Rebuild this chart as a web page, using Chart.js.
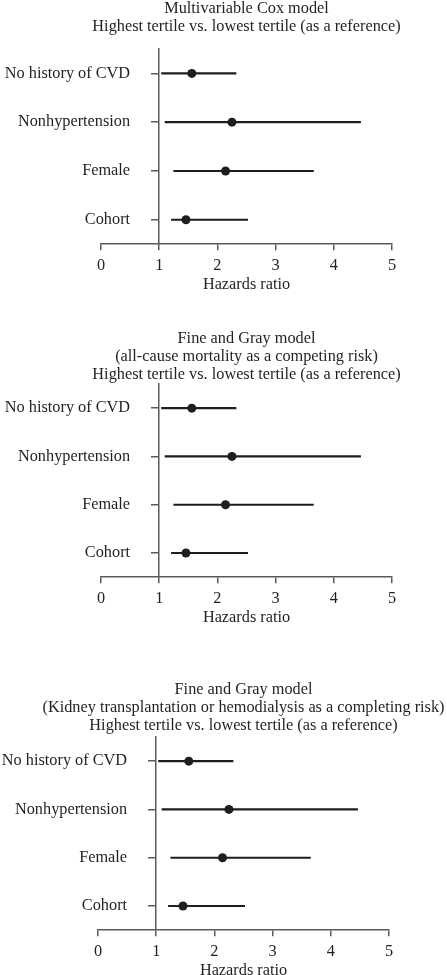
<!DOCTYPE html>
<html>
<head>
<meta charset="utf-8">
<script src="https://cdn.jsdelivr.net/npm/chart.js@4/dist/chart.umd.min.js"></script>
<style>
  html, body { margin: 0; padding: 0; background: #fff; overflow: hidden; }
  body { width: 447px; height: 975px; position: relative; }
  .panel { position: absolute; }
</style>
</head>
<body>
<div class="panel" id="p1"><canvas id="c1"></canvas></div>
<div class="panel" id="p2"><canvas id="c2"></canvas></div>
<div class="panel" id="p3"><canvas id="c3"></canvas></div>
<script>
// same subgroups / estimates in all three models
const groups = ['No history of CVD', 'Nonhypertension', 'Female', 'Cohort'];
const hazardRatio = [1.56, 2.25, 2.14, 1.46];
const ciLower = [1.04, 1.10, 1.25, 1.21];
const ciUpper = [2.32, 4.46, 3.65, 2.52];
const xMin = 0;
const xMax = 5;
const xStep = 1;
const refValue = 1;

const panelTitles = [
    ['Multivariable Cox model', 'Highest tertile vs. lowest tertile (as a reference)'],
    ['Fine and Gray model', '(all-cause mortality as a competing risk)', 'Highest tertile vs. lowest tertile (as a reference)'],
    ['Fine and Gray model', '(Kidney transplantation or hemodialysis as a completing risk)', 'Highest tertile vs. lowest tertile (as a reference)']
];
const axisTitle = 'Hazards ratio';

// placement of each canvas on the page
const panels = [
    { id: 'c1', box: 'p1', top: -2, left: 0, height: 297, titleGap: 13 },
    { id: 'c2', box: 'p2', top: 328, left: 0, height: 300, titleGap: 0 },
    { id: 'c3', box: 'p3', top: 679, left: -3, height: 302, titleGap: 2 }
];

const FONT = "'Liberation Serif', 'Times New Roman', serif";
const FS = 16.3;
const TEXT = '#231f20';
const AXIS = '#5a5a5a';
const MARK = '#1e1e1e';
const SIDE = 101; // empty margin left and right of the plot area

Chart.defaults.font.family = FONT;
Chart.defaults.font.size = FS;
Chart.defaults.color = TEXT;

// invisible side axis that only reserves room, so the full-width title is not squeezed
function spacer(pos) {
    return {
        type: 'category',
        position: pos,
        ticks: { display: false },
        grid: { display: false },
        border: { display: false },
        afterFit: scale => { scale.width = SIDE; }
    };
}

function drawPanel(p, titleLines) {
    const wrap = document.getElementById(p.box);
    wrap.style.top = p.top + 'px';
    wrap.style.left = p.left + 'px';
    const canvas = document.getElementById(p.id);
    canvas.width = 493;
    canvas.height = p.height;

    new Chart(canvas, {
        type: 'bar',
        data: {
            labels: groups,
            datasets: [
                {
                    type: 'line',
                    indexAxis: 'y',
                    data: hazardRatio,
                    showLine: false,
                    pointRadius: 4.5,
                    pointBackgroundColor: MARK,
                    pointBorderWidth: 0,
                    order: 0
                },
                {
                    type: 'bar',
                    indexAxis: 'y',
                    data: groups.map((g, i) => [ciLower[i], ciUpper[i]]),
                    backgroundColor: MARK,
                    borderWidth: 0,
                    barThickness: 1.5,
                    order: 1
                }
            ]
        },
        options: {
            indexAxis: 'y',
            responsive: false,
            devicePixelRatio: 1,
            animation: false,
            layout: { padding: 0 },
            plugins: {
                legend: { display: false },
                tooltip: { enabled: false },
                title: {
                    display: true,
                    text: titleLines,
                    color: TEXT,
                    font: { size: FS, weight: 'normal', lineHeight: 18 / FS },
                    padding: { top: 2, bottom: p.titleGap }
                }
            },
            scales: {
                x: {
                    type: 'linear',
                    min: xMin,
                    max: xMax,
                    ticks: { stepSize: xStep, padding: 6, color: TEXT, font: { size: FS } },
                    grid: { drawOnChartArea: false, drawTicks: true, tickLength: 6, color: AXIS, lineWidth: 1.5 },
                    border: { display: true, color: AXIS, width: 1.5 },
                    title: { display: true, text: axisTitle, color: TEXT, font: { size: FS, lineHeight: 1 }, padding: { top: -5, bottom: 2 } }
                },
                padL: spacer('left'),
                padR: spacer('right'),
                // row labels, right-aligned half a unit left of the reference line
                y: {
                    type: 'category',
                    position: { x: 0.5 },
                    offset: true,
                    ticks: { color: TEXT, font: { size: FS } },
                    grid: { display: false },
                    border: { display: false }
                },
                // vertical reference line at HR = 1 with the short row ticks
                yRef: {
                    type: 'category',
                    axis: 'y',
                    position: { x: refValue },
                    offset: true,
                    ticks: { display: false },
                    grid: { offset: false, drawOnChartArea: false, drawTicks: true, tickLength: 7, color: AXIS, lineWidth: 1.5 },
                    border: { display: true, color: AXIS, width: 1.5 }
                }
            }
        }
    });
}

panels.forEach((p, i) => drawPanel(p, panelTitles[i]));
</script>
</body>
</html>
